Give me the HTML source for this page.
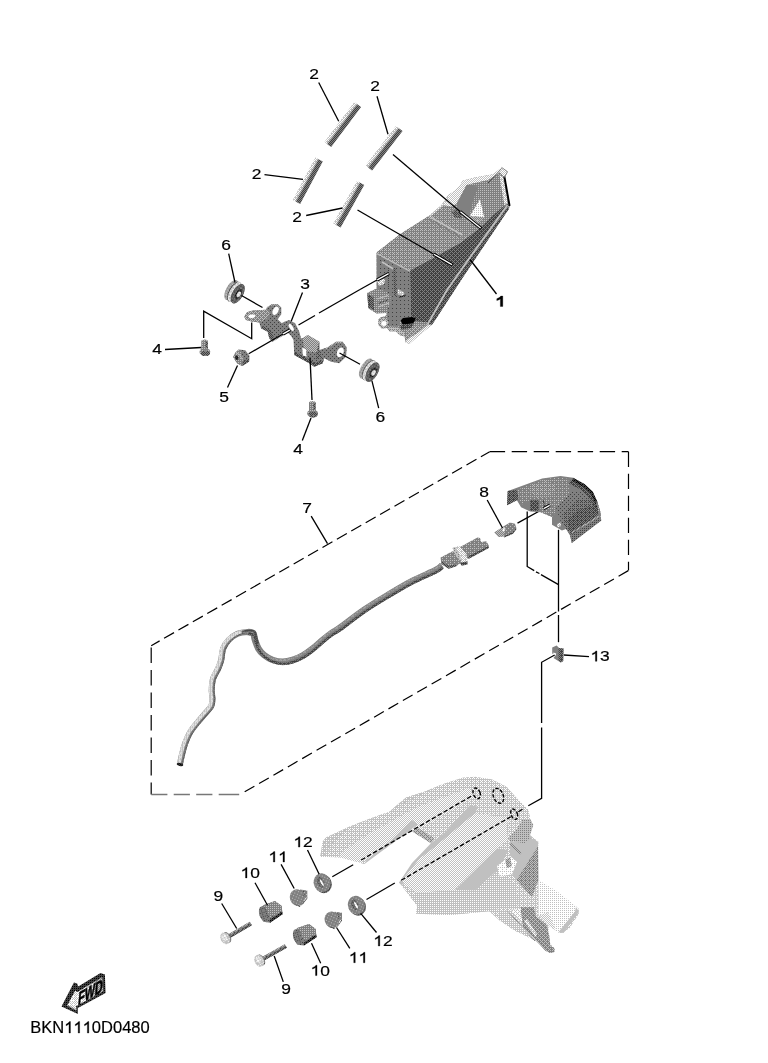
<!DOCTYPE html><html><head><meta charset="utf-8"><title>BKN1110D0480</title><style>html,body{margin:0;padding:0;background:#fff}body{width:768px;height:1063px;overflow:hidden;font-family:"Liberation Sans",sans-serif}svg{display:block;filter:grayscale(1)}</style></head><body><svg width="768" height="1063" viewBox="0 0 768 1063" font-family="'Liberation Sans', sans-serif" fill="#000"><defs><pattern id="ML5" width="4" height="4" patternUnits="userSpaceOnUse"><rect width="4" height="4" fill="#808080"/><g fill="#c0c0c0"><rect x="0" y="0" width="1" height="1"/><rect x="2" y="0" width="1" height="1"/><rect x="1" y="1" width="1" height="1"/><rect x="0" y="2" width="1" height="1"/><rect x="2" y="2" width="1" height="1"/></g></pattern><pattern id="ML2" width="4" height="4" patternUnits="userSpaceOnUse"><rect width="4" height="4" fill="#808080"/><g fill="#c0c0c0"><rect x="0" y="0" width="1" height="1"/><rect x="2" y="2" width="1" height="1"/></g></pattern><pattern id="DM6" width="4" height="4" patternUnits="userSpaceOnUse"><rect width="4" height="4" fill="#404040"/><g fill="#808080"><rect x="0" y="0" width="1" height="1"/><rect x="2" y="0" width="1" height="1"/><rect x="1" y="1" width="1" height="1"/><rect x="0" y="2" width="1" height="1"/><rect x="2" y="2" width="1" height="1"/><rect x="3" y="3" width="1" height="1"/></g></pattern><pattern id="LW6" width="4" height="4" patternUnits="userSpaceOnUse"><rect width="4" height="4" fill="#c0c0c0"/><g fill="#ffffff"><rect x="0" y="0" width="1" height="1"/><rect x="2" y="0" width="1" height="1"/><rect x="1" y="1" width="1" height="1"/><rect x="0" y="2" width="1" height="1"/><rect x="2" y="2" width="1" height="1"/><rect x="3" y="3" width="1" height="1"/></g></pattern><pattern id="LW10" width="4" height="4" patternUnits="userSpaceOnUse"><rect width="4" height="4" fill="#c0c0c0"/><g fill="#ffffff"><rect x="0" y="0" width="1" height="1"/><rect x="1" y="0" width="1" height="1"/><rect x="2" y="0" width="1" height="1"/><rect x="1" y="1" width="1" height="1"/><rect x="3" y="1" width="1" height="1"/><rect x="0" y="2" width="1" height="1"/><rect x="2" y="2" width="1" height="1"/><rect x="3" y="2" width="1" height="1"/><rect x="1" y="3" width="1" height="1"/><rect x="3" y="3" width="1" height="1"/></g></pattern><pattern id="LW8" width="4" height="4" patternUnits="userSpaceOnUse"><rect width="4" height="4" fill="#c0c0c0"/><g fill="#ffffff"><rect x="0" y="0" width="1" height="1"/><rect x="2" y="0" width="1" height="1"/><rect x="1" y="1" width="1" height="1"/><rect x="3" y="1" width="1" height="1"/><rect x="0" y="2" width="1" height="1"/><rect x="2" y="2" width="1" height="1"/><rect x="1" y="3" width="1" height="1"/><rect x="3" y="3" width="1" height="1"/></g></pattern><pattern id="LW4" width="4" height="4" patternUnits="userSpaceOnUse"><rect width="4" height="4" fill="#c0c0c0"/><g fill="#ffffff"><rect x="0" y="0" width="1" height="1"/><rect x="2" y="0" width="1" height="1"/><rect x="0" y="2" width="1" height="1"/><rect x="2" y="2" width="1" height="1"/></g></pattern><pattern id="ML10" width="4" height="4" patternUnits="userSpaceOnUse"><rect width="4" height="4" fill="#808080"/><g fill="#c0c0c0"><rect x="0" y="0" width="1" height="1"/><rect x="1" y="0" width="1" height="1"/><rect x="2" y="0" width="1" height="1"/><rect x="1" y="1" width="1" height="1"/><rect x="3" y="1" width="1" height="1"/><rect x="0" y="2" width="1" height="1"/><rect x="2" y="2" width="1" height="1"/><rect x="3" y="2" width="1" height="1"/><rect x="1" y="3" width="1" height="1"/><rect x="3" y="3" width="1" height="1"/></g></pattern><pattern id="MD6" width="4" height="4" patternUnits="userSpaceOnUse"><rect width="4" height="4" fill="#808080"/><g fill="#404040"><rect x="0" y="0" width="1" height="1"/><rect x="2" y="0" width="1" height="1"/><rect x="1" y="1" width="1" height="1"/><rect x="0" y="2" width="1" height="1"/><rect x="2" y="2" width="1" height="1"/><rect x="3" y="3" width="1" height="1"/></g></pattern><pattern id="MK8" width="4" height="4" patternUnits="userSpaceOnUse"><rect width="4" height="4" fill="#808080"/><g fill="#000000"><rect x="0" y="0" width="1" height="1"/><rect x="2" y="0" width="1" height="1"/><rect x="1" y="1" width="1" height="1"/><rect x="3" y="1" width="1" height="1"/><rect x="0" y="2" width="1" height="1"/><rect x="2" y="2" width="1" height="1"/><rect x="1" y="3" width="1" height="1"/><rect x="3" y="3" width="1" height="1"/></g></pattern><pattern id="ML8" width="4" height="4" patternUnits="userSpaceOnUse"><rect width="4" height="4" fill="#808080"/><g fill="#c0c0c0"><rect x="0" y="0" width="1" height="1"/><rect x="2" y="0" width="1" height="1"/><rect x="1" y="1" width="1" height="1"/><rect x="3" y="1" width="1" height="1"/><rect x="0" y="2" width="1" height="1"/><rect x="2" y="2" width="1" height="1"/><rect x="1" y="3" width="1" height="1"/><rect x="3" y="3" width="1" height="1"/></g></pattern><pattern id="DM8" width="4" height="4" patternUnits="userSpaceOnUse"><rect width="4" height="4" fill="#404040"/><g fill="#808080"><rect x="0" y="0" width="1" height="1"/><rect x="2" y="0" width="1" height="1"/><rect x="1" y="1" width="1" height="1"/><rect x="3" y="1" width="1" height="1"/><rect x="0" y="2" width="1" height="1"/><rect x="2" y="2" width="1" height="1"/><rect x="1" y="3" width="1" height="1"/><rect x="3" y="3" width="1" height="1"/></g></pattern><pattern id="ML4" width="4" height="4" patternUnits="userSpaceOnUse"><rect width="4" height="4" fill="#808080"/><g fill="#c0c0c0"><rect x="0" y="0" width="1" height="1"/><rect x="2" y="0" width="1" height="1"/><rect x="0" y="2" width="1" height="1"/><rect x="2" y="2" width="1" height="1"/></g></pattern><pattern id="WL4" width="4" height="4" patternUnits="userSpaceOnUse"><rect width="4" height="4" fill="#ffffff"/><g fill="#c0c0c0"><rect x="0" y="0" width="1" height="1"/><rect x="2" y="0" width="1" height="1"/><rect x="0" y="2" width="1" height="1"/><rect x="2" y="2" width="1" height="1"/></g></pattern><pattern id="ML9" width="4" height="4" patternUnits="userSpaceOnUse"><rect width="4" height="4" fill="#808080"/><g fill="#c0c0c0"><rect x="0" y="0" width="1" height="1"/><rect x="1" y="0" width="1" height="1"/><rect x="2" y="0" width="1" height="1"/><rect x="1" y="1" width="1" height="1"/><rect x="3" y="1" width="1" height="1"/><rect x="0" y="2" width="1" height="1"/><rect x="2" y="2" width="1" height="1"/><rect x="1" y="3" width="1" height="1"/><rect x="3" y="3" width="1" height="1"/></g></pattern><pattern id="MD7" width="4" height="4" patternUnits="userSpaceOnUse"><rect width="4" height="4" fill="#808080"/><g fill="#404040"><rect x="0" y="0" width="1" height="1"/><rect x="2" y="0" width="1" height="1"/><rect x="1" y="1" width="1" height="1"/><rect x="3" y="1" width="1" height="1"/><rect x="0" y="2" width="1" height="1"/><rect x="2" y="2" width="1" height="1"/><rect x="3" y="3" width="1" height="1"/></g></pattern><pattern id="ML6" width="4" height="4" patternUnits="userSpaceOnUse"><rect width="4" height="4" fill="#808080"/><g fill="#c0c0c0"><rect x="0" y="0" width="1" height="1"/><rect x="2" y="0" width="1" height="1"/><rect x="1" y="1" width="1" height="1"/><rect x="0" y="2" width="1" height="1"/><rect x="2" y="2" width="1" height="1"/><rect x="3" y="3" width="1" height="1"/></g></pattern><pattern id="MD1" width="4" height="4" patternUnits="userSpaceOnUse"><rect width="4" height="4" fill="#808080"/><g fill="#404040"><rect x="0" y="0" width="1" height="1"/></g></pattern><pattern id="MD9" width="4" height="4" patternUnits="userSpaceOnUse"><rect width="4" height="4" fill="#808080"/><g fill="#404040"><rect x="0" y="0" width="1" height="1"/><rect x="1" y="0" width="1" height="1"/><rect x="2" y="0" width="1" height="1"/><rect x="1" y="1" width="1" height="1"/><rect x="3" y="1" width="1" height="1"/><rect x="0" y="2" width="1" height="1"/><rect x="2" y="2" width="1" height="1"/><rect x="1" y="3" width="1" height="1"/><rect x="3" y="3" width="1" height="1"/></g></pattern><pattern id="LW3" width="4" height="4" patternUnits="userSpaceOnUse"><rect width="4" height="4" fill="#c0c0c0"/><g fill="#ffffff"><rect x="0" y="0" width="1" height="1"/><rect x="2" y="0" width="1" height="1"/><rect x="2" y="2" width="1" height="1"/></g></pattern><pattern id="DK6" width="4" height="4" patternUnits="userSpaceOnUse"><rect width="4" height="4" fill="#404040"/><g fill="#000000"><rect x="0" y="0" width="1" height="1"/><rect x="2" y="0" width="1" height="1"/><rect x="1" y="1" width="1" height="1"/><rect x="0" y="2" width="1" height="1"/><rect x="2" y="2" width="1" height="1"/><rect x="3" y="3" width="1" height="1"/></g></pattern><pattern id="MD8" width="4" height="4" patternUnits="userSpaceOnUse"><rect width="4" height="4" fill="#808080"/><g fill="#404040"><rect x="0" y="0" width="1" height="1"/><rect x="2" y="0" width="1" height="1"/><rect x="1" y="1" width="1" height="1"/><rect x="3" y="1" width="1" height="1"/><rect x="0" y="2" width="1" height="1"/><rect x="2" y="2" width="1" height="1"/><rect x="1" y="3" width="1" height="1"/><rect x="3" y="3" width="1" height="1"/></g></pattern><pattern id="ML11" width="4" height="4" patternUnits="userSpaceOnUse"><rect width="4" height="4" fill="#808080"/><g fill="#c0c0c0"><rect x="0" y="0" width="1" height="1"/><rect x="1" y="0" width="1" height="1"/><rect x="2" y="0" width="1" height="1"/><rect x="3" y="0" width="1" height="1"/><rect x="1" y="1" width="1" height="1"/><rect x="3" y="1" width="1" height="1"/><rect x="0" y="2" width="1" height="1"/><rect x="2" y="2" width="1" height="1"/><rect x="3" y="2" width="1" height="1"/><rect x="1" y="3" width="1" height="1"/><rect x="3" y="3" width="1" height="1"/></g></pattern><pattern id="DM5" width="4" height="4" patternUnits="userSpaceOnUse"><rect width="4" height="4" fill="#404040"/><g fill="#808080"><rect x="0" y="0" width="1" height="1"/><rect x="2" y="0" width="1" height="1"/><rect x="1" y="1" width="1" height="1"/><rect x="0" y="2" width="1" height="1"/><rect x="2" y="2" width="1" height="1"/></g></pattern><pattern id="ML3" width="4" height="4" patternUnits="userSpaceOnUse"><rect width="4" height="4" fill="#808080"/><g fill="#c0c0c0"><rect x="0" y="0" width="1" height="1"/><rect x="2" y="0" width="1" height="1"/><rect x="2" y="2" width="1" height="1"/></g></pattern><pattern id="DM4" width="4" height="4" patternUnits="userSpaceOnUse"><rect width="4" height="4" fill="#404040"/><g fill="#808080"><rect x="0" y="0" width="1" height="1"/><rect x="2" y="0" width="1" height="1"/><rect x="0" y="2" width="1" height="1"/><rect x="2" y="2" width="1" height="1"/></g></pattern><pattern id="DK4" width="4" height="4" patternUnits="userSpaceOnUse"><rect width="4" height="4" fill="#404040"/><g fill="#000000"><rect x="0" y="0" width="1" height="1"/><rect x="2" y="0" width="1" height="1"/><rect x="0" y="2" width="1" height="1"/><rect x="2" y="2" width="1" height="1"/></g></pattern><pattern id="MD2" width="4" height="4" patternUnits="userSpaceOnUse"><rect width="4" height="4" fill="#808080"/><g fill="#404040"><rect x="0" y="0" width="1" height="1"/><rect x="2" y="2" width="1" height="1"/></g></pattern><pattern id="ML7" width="4" height="4" patternUnits="userSpaceOnUse"><rect width="4" height="4" fill="#808080"/><g fill="#c0c0c0"><rect x="0" y="0" width="1" height="1"/><rect x="2" y="0" width="1" height="1"/><rect x="1" y="1" width="1" height="1"/><rect x="3" y="1" width="1" height="1"/><rect x="0" y="2" width="1" height="1"/><rect x="2" y="2" width="1" height="1"/><rect x="3" y="3" width="1" height="1"/></g></pattern><pattern id="DK8" width="4" height="4" patternUnits="userSpaceOnUse"><rect width="4" height="4" fill="#404040"/><g fill="#000000"><rect x="0" y="0" width="1" height="1"/><rect x="2" y="0" width="1" height="1"/><rect x="1" y="1" width="1" height="1"/><rect x="3" y="1" width="1" height="1"/><rect x="0" y="2" width="1" height="1"/><rect x="2" y="2" width="1" height="1"/><rect x="1" y="3" width="1" height="1"/><rect x="3" y="3" width="1" height="1"/></g></pattern><pattern id="LW5" width="4" height="4" patternUnits="userSpaceOnUse"><rect width="4" height="4" fill="#c0c0c0"/><g fill="#ffffff"><rect x="0" y="0" width="1" height="1"/><rect x="2" y="0" width="1" height="1"/><rect x="1" y="1" width="1" height="1"/><rect x="0" y="2" width="1" height="1"/><rect x="2" y="2" width="1" height="1"/></g></pattern><pattern id="LW7" width="4" height="4" patternUnits="userSpaceOnUse"><rect width="4" height="4" fill="#c0c0c0"/><g fill="#ffffff"><rect x="0" y="0" width="1" height="1"/><rect x="2" y="0" width="1" height="1"/><rect x="1" y="1" width="1" height="1"/><rect x="3" y="1" width="1" height="1"/><rect x="0" y="2" width="1" height="1"/><rect x="2" y="2" width="1" height="1"/><rect x="3" y="3" width="1" height="1"/></g></pattern><pattern id="LM3" width="4" height="4" patternUnits="userSpaceOnUse"><rect width="4" height="4" fill="#c0c0c0"/><g fill="#808080"><rect x="0" y="0" width="1" height="1"/><rect x="2" y="0" width="1" height="1"/><rect x="2" y="2" width="1" height="1"/></g></pattern><pattern id="DM7" width="4" height="4" patternUnits="userSpaceOnUse"><rect width="4" height="4" fill="#404040"/><g fill="#808080"><rect x="0" y="0" width="1" height="1"/><rect x="2" y="0" width="1" height="1"/><rect x="1" y="1" width="1" height="1"/><rect x="3" y="1" width="1" height="1"/><rect x="0" y="2" width="1" height="1"/><rect x="2" y="2" width="1" height="1"/><rect x="3" y="3" width="1" height="1"/></g></pattern><pattern id="MD5" width="4" height="4" patternUnits="userSpaceOnUse"><rect width="4" height="4" fill="#808080"/><g fill="#404040"><rect x="0" y="0" width="1" height="1"/><rect x="2" y="0" width="1" height="1"/><rect x="1" y="1" width="1" height="1"/><rect x="0" y="2" width="1" height="1"/><rect x="2" y="2" width="1" height="1"/></g></pattern><pattern id="MD10" width="4" height="4" patternUnits="userSpaceOnUse"><rect width="4" height="4" fill="#808080"/><g fill="#404040"><rect x="0" y="0" width="1" height="1"/><rect x="1" y="0" width="1" height="1"/><rect x="2" y="0" width="1" height="1"/><rect x="1" y="1" width="1" height="1"/><rect x="3" y="1" width="1" height="1"/><rect x="0" y="2" width="1" height="1"/><rect x="2" y="2" width="1" height="1"/><rect x="3" y="2" width="1" height="1"/><rect x="1" y="3" width="1" height="1"/><rect x="3" y="3" width="1" height="1"/></g></pattern><pattern id="MD4" width="4" height="4" patternUnits="userSpaceOnUse"><rect width="4" height="4" fill="#808080"/><g fill="#404040"><rect x="0" y="0" width="1" height="1"/><rect x="2" y="0" width="1" height="1"/><rect x="0" y="2" width="1" height="1"/><rect x="2" y="2" width="1" height="1"/></g></pattern><pattern id="LM6" width="4" height="4" patternUnits="userSpaceOnUse"><rect width="4" height="4" fill="#c0c0c0"/><g fill="#808080"><rect x="0" y="0" width="1" height="1"/><rect x="2" y="0" width="1" height="1"/><rect x="1" y="1" width="1" height="1"/><rect x="0" y="2" width="1" height="1"/><rect x="2" y="2" width="1" height="1"/><rect x="3" y="3" width="1" height="1"/></g></pattern><pattern id="LM4" width="4" height="4" patternUnits="userSpaceOnUse"><rect width="4" height="4" fill="#c0c0c0"/><g fill="#808080"><rect x="0" y="0" width="1" height="1"/><rect x="2" y="0" width="1" height="1"/><rect x="0" y="2" width="1" height="1"/><rect x="2" y="2" width="1" height="1"/></g></pattern><pattern id="LM9" width="4" height="4" patternUnits="userSpaceOnUse"><rect width="4" height="4" fill="#c0c0c0"/><g fill="#808080"><rect x="0" y="0" width="1" height="1"/><rect x="1" y="0" width="1" height="1"/><rect x="2" y="0" width="1" height="1"/><rect x="1" y="1" width="1" height="1"/><rect x="3" y="1" width="1" height="1"/><rect x="0" y="2" width="1" height="1"/><rect x="2" y="2" width="1" height="1"/><rect x="1" y="3" width="1" height="1"/><rect x="3" y="3" width="1" height="1"/></g></pattern><pattern id="LM8" width="4" height="4" patternUnits="userSpaceOnUse"><rect width="4" height="4" fill="#c0c0c0"/><g fill="#808080"><rect x="0" y="0" width="1" height="1"/><rect x="2" y="0" width="1" height="1"/><rect x="1" y="1" width="1" height="1"/><rect x="3" y="1" width="1" height="1"/><rect x="0" y="2" width="1" height="1"/><rect x="2" y="2" width="1" height="1"/><rect x="1" y="3" width="1" height="1"/><rect x="3" y="3" width="1" height="1"/></g></pattern><pattern id="LW13" width="4" height="4" patternUnits="userSpaceOnUse"><rect width="4" height="4" fill="#c0c0c0"/><g fill="#ffffff"><rect x="0" y="0" width="1" height="1"/><rect x="1" y="0" width="1" height="1"/><rect x="2" y="0" width="1" height="1"/><rect x="3" y="0" width="1" height="1"/><rect x="0" y="1" width="1" height="1"/><rect x="1" y="1" width="1" height="1"/><rect x="3" y="1" width="1" height="1"/><rect x="0" y="2" width="1" height="1"/><rect x="1" y="2" width="1" height="1"/><rect x="2" y="2" width="1" height="1"/><rect x="3" y="2" width="1" height="1"/><rect x="1" y="3" width="1" height="1"/><rect x="3" y="3" width="1" height="1"/></g></pattern><pattern id="WL6" width="4" height="4" patternUnits="userSpaceOnUse"><rect width="4" height="4" fill="#ffffff"/><g fill="#c0c0c0"><rect x="0" y="0" width="1" height="1"/><rect x="2" y="0" width="1" height="1"/><rect x="1" y="1" width="1" height="1"/><rect x="0" y="2" width="1" height="1"/><rect x="2" y="2" width="1" height="1"/><rect x="3" y="3" width="1" height="1"/></g></pattern><pattern id="WL3" width="4" height="4" patternUnits="userSpaceOnUse"><rect width="4" height="4" fill="#ffffff"/><g fill="#c0c0c0"><rect x="0" y="0" width="1" height="1"/><rect x="2" y="0" width="1" height="1"/><rect x="2" y="2" width="1" height="1"/></g></pattern><pattern id="DK5" width="4" height="4" patternUnits="userSpaceOnUse"><rect width="4" height="4" fill="#404040"/><g fill="#000000"><rect x="0" y="0" width="1" height="1"/><rect x="2" y="0" width="1" height="1"/><rect x="1" y="1" width="1" height="1"/><rect x="0" y="2" width="1" height="1"/><rect x="2" y="2" width="1" height="1"/></g></pattern><pattern id="MD3" width="4" height="4" patternUnits="userSpaceOnUse"><rect width="4" height="4" fill="#808080"/><g fill="#404040"><rect x="0" y="0" width="1" height="1"/><rect x="2" y="0" width="1" height="1"/><rect x="2" y="2" width="1" height="1"/></g></pattern><pattern id="LW9" width="4" height="4" patternUnits="userSpaceOnUse"><rect width="4" height="4" fill="#c0c0c0"/><g fill="#ffffff"><rect x="0" y="0" width="1" height="1"/><rect x="1" y="0" width="1" height="1"/><rect x="2" y="0" width="1" height="1"/><rect x="1" y="1" width="1" height="1"/><rect x="3" y="1" width="1" height="1"/><rect x="0" y="2" width="1" height="1"/><rect x="2" y="2" width="1" height="1"/><rect x="1" y="3" width="1" height="1"/><rect x="3" y="3" width="1" height="1"/></g></pattern><pattern id="LW11" width="4" height="4" patternUnits="userSpaceOnUse"><rect width="4" height="4" fill="#c0c0c0"/><g fill="#ffffff"><rect x="0" y="0" width="1" height="1"/><rect x="1" y="0" width="1" height="1"/><rect x="2" y="0" width="1" height="1"/><rect x="3" y="0" width="1" height="1"/><rect x="1" y="1" width="1" height="1"/><rect x="3" y="1" width="1" height="1"/><rect x="0" y="2" width="1" height="1"/><rect x="2" y="2" width="1" height="1"/><rect x="3" y="2" width="1" height="1"/><rect x="1" y="3" width="1" height="1"/><rect x="3" y="3" width="1" height="1"/></g></pattern><pattern id="LW2" width="4" height="4" patternUnits="userSpaceOnUse"><rect width="4" height="4" fill="#c0c0c0"/><g fill="#ffffff"><rect x="0" y="0" width="1" height="1"/><rect x="2" y="2" width="1" height="1"/></g></pattern></defs><rect width="768" height="1063" fill="#fff"/><polygon points="324.42,141.94 354.36,102.02 356.712,103.784 326.772,143.704" fill="url(#LW6)" />
<polygon points="326.604,143.578 356.544,103.658 357.317,104.238 327.377,144.158" fill="url(#ML8)" />
<polygon points="327.377,144.158 357.317,104.238 361.08,107.06 331.14,146.98" fill="url(#DM8)" />
<polygon points="365.443,165.38 395.912,125.981 398.237,127.78 367.769,167.178" fill="url(#LW6)" />
<polygon points="367.603,167.05 398.071,127.651 398.835,128.242 368.367,167.641" fill="url(#ML8)" />
<polygon points="368.367,167.641 398.835,128.242 402.557,131.12 372.088,170.519" fill="url(#DM8)" />
<polygon points="292.728,200.091 315.353,157.471 317.95,158.849 295.324,201.469" fill="url(#LW6)" />
<polygon points="295.139,201.371 317.764,158.751 318.618,159.204 295.992,201.824" fill="url(#ML8)" />
<polygon points="295.992,201.824 318.618,159.204 322.772,161.409 300.147,204.029" fill="url(#DM8)" />
<polygon points="333.246,223.509 356.911,180.911 359.481,182.339 335.816,224.937" fill="url(#LW6)" />
<polygon points="335.632,224.835 359.298,182.237 360.142,182.706 336.477,225.304" fill="url(#ML8)" />
<polygon points="336.477,225.304 360.142,182.706 364.254,184.991 340.589,227.589" fill="url(#DM8)" />
<polygon points="376.5,252.5 400,234.2 429.2,215.8 441.7,205 448.3,195 455,190.8 460,185.8 462.5,180.8 475,177.5 493.3,174.2 501.7,167.5 507.5,171.7 504.6,177.5 510,205 509,208.8 473.3,261.7 460,281.7 437,317.2 432,324.7 418.2,336 409.5,343.7 405.7,342.5 404.5,336.5 399.5,335 395.7,331.3 389.5,331.3 387,328 382,328.7 378.2,324.7 378.2,319.7 380.7,317.2 385.5,316 386.5,313 376.7,313.5 368.3,308.3 367.3,293 376.7,288.5" fill="url(#ML4)" />
<polygon points="441.7,205 448.3,195 455,190.8 460,185.8 462.5,180.8 475,177.5 493.3,174.2 501.7,167.5 507.5,171.7 504.6,177.5 500,172.5 488.3,180 466.7,185 457,203 452,206.5" fill="url(#LW8)" />
<polygon points="466.7,185 488.3,180 500,172.5 504,178 507.5,203.3 493.3,215 481.7,226.7 463.3,235 457.5,211 457,203" fill="url(#ML4)" />
<polygon points="466.7,185.3 478.3,186.5 473.3,200 469.2,215 458,214 457,203" fill="#808080" />
<polygon points="499.5,175 503.3,177.5 507.7,203.5 504.5,206 500.5,182" fill="url(#LW6)" />
<polygon points="480,199.2 484.2,217.5 470,215.8" fill="url(#WL4)" />
<polygon points="470,215.8 484.2,217.5 478,224 466,222" fill="url(#ML9)" />
<polygon points="376.7,252.5 400,234.2 429.2,215.8 441.7,205.8 455,210 463.3,235 481.7,226.7 460,243.3 410,270.8" fill="url(#ML5)" />
<polyline points="429.5,216.3 441.7,206 448,197.5" fill="none" stroke="url(#LW4)" stroke-width="1.6" />
<polyline points="430.8,217.5 462.5,235" fill="none" stroke="#c0c0c0" stroke-width="1.6" />
<polygon points="431.5,219 462.5,236.2 461,238.5 430,221" fill="url(#ML2)" />
<polygon points="451.5,211 458,209.5 463.5,214 461,218.5 454,217" fill="url(#MD7)" />
<polygon points="410,270.8 460,243.3 481.7,226.7 493.3,215 507.5,203.3 508,206.5 470,256.7 446.7,290 428.3,322.5 415.5,321 410.8,317.5" fill="url(#DM6)" />
<polygon points="509,208.8 473.3,261.7 460,281.7 437,317.2 432,324.7 427,326 446.7,292 470,259 508,207" fill="url(#DM6)" />
<polyline points="427.5,324.5 446.7,290.5 470,257.2 507.5,205" fill="none" stroke="#c0c0c0" stroke-width="1.7" />
<polygon points="405.7,342.5 409.5,343.7 418.2,336 432,324.7 428.5,324.5 416.5,333.5 407,339.5" fill="url(#LW8)" />
<polygon points="404.5,336.5 407,339.5 416.5,333.5 427,325.5 415,325.5 408,330" fill="url(#ML6)" />
<polygon points="376.7,253 410,270.8 410.8,318 400.7,320 398,327 388,326 387,312.2 386.5,292 376.7,288.5" fill="url(#MD1)" />
<polyline points="376.9,253.6 410,271.2" fill="none" stroke="#c0c0c0" stroke-width="1.3" />
<polyline points="382,262 393.5,269" fill="none" stroke="#c0c0c0" stroke-width="1.6" />
<polyline points="394.5,268 395,296" fill="none" stroke="url(#MD9)" stroke-width="1.8" />
<polyline points="388.5,270 388.5,290" fill="none" stroke="url(#MD7)" stroke-width="1.2" />
<polygon points="398,289 404.5,292.5 403.5,296.5 397.5,294" fill="url(#LW3)" />
<polyline points="399,297.5 406,295" fill="none" stroke="url(#DK6)" stroke-width="1.2" />
<polygon points="367.3,293 376.7,288.5 386.5,292 390.5,296 390,306 377,313.5 368.3,308.3" fill="url(#ML4)" />
<polygon points="367.5,294 373.5,297 374,310 368.3,307.5" fill="url(#MD9)" />
<polyline points="377,299 388,295.5" fill="none" stroke="#c0c0c0" stroke-width="1.3" />
<polyline points="378,303.5 389,299.5" fill="none" stroke="url(#MD8)" stroke-width="1.3" />
<polyline points="378,307 389,303" fill="none" stroke="#c0c0c0" stroke-width="1.3" />
<polygon points="377,281 382,278 385,280 384,284 379,286" fill="url(#LW6)" />
<ellipse cx="383.6" cy="322.8" rx="4.8" ry="5.2" fill="url(#ML10)" />
<ellipse cx="383.9" cy="323.5" rx="2.6" ry="2.4" fill="#fff" />
<polygon points="389.5,331.3 395.7,331.3 399.5,335 404.5,336.5 405,333 398,327.5 389,327" fill="url(#ML11)" />
<polygon points="400.7,320.5 403,318 412,317 415.7,318.5 414,322.5 408,324.7 402.5,324.5" fill="#000" />
<polygon points="400,325 414,323 411,328 401,329.5" fill="url(#DM5)" />
<polyline points="504.4,176.5 509.6,206" fill="none" stroke="#000" stroke-width="1.9" />
<polyline points="501.5,168.5 488,183" fill="none" stroke="url(#MD8)" stroke-width="1.0" />
<polyline points="501.7,167.5 507.5,171.7 504.5,177.5" fill="none" stroke="#808080" stroke-width="0.9" />
<line x1="393" y1="154.5" x2="460" y2="211.5" stroke="#000" stroke-width="1.3" />
<line x1="357.5" y1="210" x2="433.5" y2="254" stroke="#000" stroke-width="1.3" />
<line x1="460" y1="211.5" x2="481.3" y2="228.5" stroke="#000" stroke-width="3.2" stroke-linecap="butt"/>
<line x1="460.426" y1="211.84" x2="480.661" y2="227.99" stroke="#fff" stroke-width="1.3" />
<line x1="433.5" y1="254" x2="452.5" y2="265" stroke="#000" stroke-width="3.2" stroke-linecap="butt"/>
<line x1="433.88" y1="254.22" x2="451.93" y2="264.67" stroke="#fff" stroke-width="1.3" />
<line x1="470" y1="259.5" x2="496.5" y2="294" stroke="#000" stroke-width="1.3" />
<path transform="translate(495.311 306.491) scale(17.4 14.5)" d="M.43,0H.29V-.52Q.2,-.45 .085,-.41V-.535Q.25,-.6 .32,-.716H.43Z" stroke="#000" stroke-width="0.02"/>
<line x1="318.7" y1="82.5" x2="338.7" y2="121.2" stroke="#000" stroke-width="1.3" />
<text transform="translate(309.371 78.991) scale(1.2 1)" font-size="14.5" font-weight="normal" text-anchor="start" stroke="#000" stroke-width="0.18">2</text>
<line x1="377" y1="96.2" x2="388" y2="134.2" stroke="#000" stroke-width="1.3" />
<text transform="translate(370.171 90.991) scale(1.2 1)" font-size="14.5" font-weight="normal" text-anchor="start" stroke="#000" stroke-width="0.18">2</text>
<line x1="264.5" y1="174.6" x2="303" y2="179.4" stroke="#000" stroke-width="1.3" />
<text transform="translate(251.672 178.791) scale(1.2 1)" font-size="14.5" font-weight="normal" text-anchor="start" stroke="#000" stroke-width="0.18">2</text>
<line x1="306.2" y1="215.5" x2="342.5" y2="208" stroke="#000" stroke-width="1.3" />
<text transform="translate(292.171 221.791) scale(1.2 1)" font-size="14.5" font-weight="normal" text-anchor="start" stroke="#000" stroke-width="0.18">2</text>
<ellipse cx="231.323" cy="290.05" rx="5.2" ry="11.2" fill="url(#ML9)" transform="rotate(30 231.323 290.05)" />
<ellipse cx="234.18" cy="291.7" rx="5.2" ry="11.2" fill="url(#DM4)" transform="rotate(30 234.18 291.7)" />
<ellipse cx="234.96" cy="292.15" rx="5.2" ry="11.2" fill="url(#LW6)" transform="rotate(30 234.96 292.15)" />
<ellipse cx="237.644" cy="293.7" rx="5.2" ry="10.864" fill="url(#DM5)" transform="rotate(30 237.644 293.7)" />
<ellipse cx="238.077" cy="293.95" rx="4.94" ry="10.416" fill="url(#MD7)" transform="rotate(30 238.077 293.95)" />
<ellipse cx="238.424" cy="294.15" rx="2.86" ry="5.6" fill="url(#DK4)" transform="rotate(30 238.424 294.15)" />
<ellipse cx="238.857" cy="294.4" rx="1.9" ry="3" fill="url(#LW8)" transform="rotate(30 238.857 294.4)" />
<ellipse cx="366.023" cy="368.45" rx="5.2" ry="11.2" fill="url(#ML9)" transform="rotate(30 366.023 368.45)" />
<ellipse cx="368.88" cy="370.1" rx="5.2" ry="11.2" fill="url(#DM4)" transform="rotate(30 368.88 370.1)" />
<ellipse cx="369.66" cy="370.55" rx="5.2" ry="11.2" fill="url(#LW6)" transform="rotate(30 369.66 370.55)" />
<ellipse cx="372.344" cy="372.1" rx="5.2" ry="10.864" fill="url(#DM5)" transform="rotate(30 372.344 372.1)" />
<ellipse cx="372.777" cy="372.35" rx="4.94" ry="10.416" fill="url(#MD7)" transform="rotate(30 372.777 372.35)" />
<ellipse cx="373.124" cy="372.55" rx="2.86" ry="5.6" fill="url(#DK4)" transform="rotate(30 373.124 372.55)" />
<ellipse cx="373.557" cy="372.8" rx="1.9" ry="3" fill="url(#LW8)" transform="rotate(30 373.557 372.8)" />
<polygon points="244.3,316.7 247,312.3 252.7,310.6 266,309.7 266.8,307.5 271.8,304.2 277.7,304.2 281.3,307.5 281.3,314.2 277.7,319.2 281.8,323.3 284.3,321.7 289.3,320 295.2,323.3 299.3,331.7 301,338.3 302.7,338.3 307.7,335 319.3,341.7 319.3,350 329.3,346.7 336,341.7 342.7,341.7 346.8,347.5 346,356.7 339.3,363.3 331,361.7 324.3,358.3 322.7,363.3 314.3,366.7 309.3,363.3 294.3,355 293.5,340 291,335.8 286,331 279,336 272,341 269.3,338.3 267.7,331.7 261,328.3 259.3,322.5 252.7,321.7 246,320" fill="url(#MD2)" />
<polygon points="244.3,316.7 247,312.3 252.7,310.6 266,309.7 270,312 268,318 259.3,322.5 252.7,321.7 246,320" fill="url(#ML6)" />
<polyline points="267.5,307.5 272,304.8 277.5,304.8 280.7,308" fill="none" stroke="url(#ML8)" stroke-width="1.2" />
<polyline points="326,349 331,345.5 336.5,342.3 342.5,342.3" fill="none" stroke="url(#ML8)" stroke-width="1.2" />
<polygon points="294.3,355 309.3,363.3 314.3,366.7 322.7,363.3 323.5,360 314.5,363 309.8,359.8 294.5,351.5" fill="url(#DM6)" />
<polygon points="261,328.3 267.7,331.7 269.3,338.3 272,341 274,337.5 270.5,330.5 263,326" fill="url(#DM8)" />
<ellipse cx="251.8" cy="316.3" rx="3.5" ry="1.7" fill="#fff" transform="rotate(-5 251.8 316.3)" />
<ellipse cx="275.6" cy="310.8" rx="2.7" ry="4.4" fill="#fff" transform="rotate(28 275.6 310.8)" />
<ellipse cx="291.2" cy="327.3" rx="1.7" ry="4" fill="#fff" transform="rotate(-32 291.2 327.3)" />
<ellipse cx="340.3" cy="352.3" rx="3.2" ry="5" fill="#fff" transform="rotate(22 340.3 352.3)" />
<polygon points="302.7,338.3 307.7,335 319.3,341.7 316.5,352.5 304.5,351" fill="url(#ML8)" />
<polygon points="316.5,352.5 319.3,341.7 319.3,350 322,358 316,360" fill="url(#MD6)" />
<polygon points="302.2,347.5 306,349.5 306.6,356.5 302.8,355.5" fill="#fff" />
<polyline points="272,341.3 285,333.5" fill="none" stroke="url(#ML8)" stroke-width="1.6" />
<ellipse cx="204.6" cy="341.4" rx="3.3" ry="1.8" fill="url(#ML7)" />
<polygon points="201.3,341.3 207.9,341.3 207.9,350.3 201.3,350.3" fill="url(#ML4)" />
<polygon points="205.4,341.3 207.9,341.3 207.9,350.3 205.4,350.3" fill="url(#MD6)" />
<ellipse cx="204.9" cy="352" rx="5.4" ry="4" fill="url(#ML4)" />
<ellipse cx="205.4" cy="353.2" rx="4.6" ry="2.8" fill="url(#MD7)" />
<ellipse cx="312.3" cy="402.8" rx="3.3" ry="1.8" fill="url(#ML7)" />
<polygon points="309,402.7 315.6,402.7 315.6,411.7 309,411.7" fill="url(#ML4)" />
<polygon points="313.1,402.7 315.6,402.7 315.6,411.7 313.1,411.7" fill="url(#MD6)" />
<ellipse cx="312.6" cy="413.4" rx="5.4" ry="4" fill="url(#ML4)" />
<ellipse cx="313.1" cy="414.6" rx="4.6" ry="2.8" fill="url(#MD7)" />
<polygon points="238.7,349.4 245.3,350.2 249.5,355.7 249.1,361.5 242,366.1 237,363.2 233.2,356.9 235.3,352.7" fill="url(#MD2)" />
<polygon points="235.3,352.7 238.7,349.4 241,352 243,358 242,366.1 237,363.2 233.2,356.9" fill="url(#ML4)" />
<polyline points="235.8,352.8 239.5,354.5 242.3,359.5" fill="none" stroke="#c0c0c0" stroke-width="1.0" />
<polygon points="243,362 249.1,358 249.1,361.5 242.5,366" fill="url(#DM6)" />
<ellipse cx="236.8" cy="357.8" rx="1.6" ry="2.2" fill="url(#DK8)" transform="rotate(-20 236.8 357.8)" />
<line x1="228.7" y1="253.7" x2="235" y2="282.5" stroke="#000" stroke-width="1.3" />
<text transform="translate(221.371 250.291) scale(1.2 1)" font-size="14.5" font-weight="normal" text-anchor="start" stroke="#000" stroke-width="0.18">6</text>
<line x1="241.5" y1="295.5" x2="262.5" y2="307.5" stroke="#000" stroke-width="1.3" />
<polyline points="203.7,338 203.7,311.2 251.7,338.7 251.7,322.5" fill="none" stroke="#000" stroke-width="1.3" />
<line x1="165" y1="349.5" x2="201.2" y2="347.5" stroke="#000" stroke-width="1.3" />
<text transform="translate(152.172 354.291) scale(1.2 1)" font-size="14.5" font-weight="normal" text-anchor="start" stroke="#000" stroke-width="0.18">4</text>
<line x1="227.5" y1="387.5" x2="237.5" y2="365.5" stroke="#000" stroke-width="1.3" />
<text transform="translate(219.371 401.791) scale(1.2 1)" font-size="14.5" font-weight="normal" text-anchor="start" stroke="#000" stroke-width="0.18">5</text>
<line x1="302.5" y1="292.5" x2="291.2" y2="321.2" stroke="#000" stroke-width="1.3" />
<text transform="translate(300.171 289.291) scale(1.2 1)" font-size="14.5" font-weight="normal" text-anchor="start" stroke="#000" stroke-width="0.18">3</text>
<line x1="248.7" y1="353.7" x2="283" y2="334" stroke="#000" stroke-width="1.3" />
<line x1="283" y1="334" x2="290" y2="330" stroke="#000" stroke-width="3.2" stroke-linecap="butt"/>
<line x1="283.14" y1="333.92" x2="289.79" y2="330.12" stroke="#fff" stroke-width="1.3" />
<line x1="298.5" y1="325" x2="315" y2="315.5" stroke="#000" stroke-width="1.3" />
<line x1="319" y1="313" x2="360" y2="289.5" stroke="#000" stroke-width="1.3" />
<line x1="377" y1="280" x2="389" y2="273.5" stroke="#000" stroke-width="3.2" stroke-linecap="butt"/>
<line x1="377.24" y1="279.87" x2="388.64" y2="273.695" stroke="#fff" stroke-width="1.3" />
<line x1="360" y1="289.5" x2="377" y2="280" stroke="#000" stroke-width="1.3" />
<line x1="310" y1="357.5" x2="312" y2="400" stroke="#000" stroke-width="1.3" />
<line x1="339.5" y1="353" x2="360" y2="364.2" stroke="#000" stroke-width="1.3" />
<line x1="371.9" y1="380.6" x2="378.7" y2="408.2" stroke="#000" stroke-width="1.3" />
<text transform="translate(375.571 421.991) scale(1.2 1)" font-size="14.5" font-weight="normal" text-anchor="start" stroke="#000" stroke-width="0.18">6</text>
<line x1="302.3" y1="440.6" x2="311" y2="418" stroke="#000" stroke-width="1.3" />
<text transform="translate(293.272 454.391) scale(1.2 1)" font-size="14.5" font-weight="normal" text-anchor="start" stroke="#000" stroke-width="0.18">4</text>
<polyline points="489.7,451.7 628.5,451.7" fill="none" stroke="#000" stroke-width="1.2" stroke-dasharray="15.4 6.6" stroke-dashoffset="0"/>
<polyline points="628.5,451.7 628.5,570.5" fill="none" stroke="#000" stroke-width="1.2" stroke-dasharray="15.4 6.6" stroke-dashoffset="0"/>
<polyline points="240,794.5 628.5,570.5" fill="none" stroke="#000" stroke-width="1.2" stroke-dasharray="11.2 5.4" stroke-dashoffset="11.2"/>
<polyline points="151.2,645.7 489.7,451.7" fill="none" stroke="#000" stroke-width="1.2" stroke-dasharray="11.5 5.1" stroke-dashoffset="1.8"/>
<polyline points="151.2,645.7 151.2,794.5" fill="none" stroke="#000" stroke-width="1.2" stroke-dasharray="15.6 6.9" stroke-dashoffset="20.7"/>
<polyline points="151.2,794.5 240,794.5" fill="none" stroke="#777" stroke-width="1.6" stroke-dasharray="16.2 6.3 16.2 6.3 16.2 6.3 20.5 50" stroke-dashoffset="0"/>
<line x1="311.2" y1="516.2" x2="327.5" y2="543.7" stroke="#000" stroke-width="1.3" />
<text transform="translate(302.171 513.491) scale(1.2 1)" font-size="14.5" font-weight="normal" text-anchor="start" stroke="#000" stroke-width="0.18">7</text>
<path d="M180,763.7 C180.32,762.25 181.07,758.33 181.9,755 C182.73,751.67 183.65,747.45 185,743.7 C186.35,739.95 187.92,736.03 190,732.5 C192.08,728.97 195.00,725.63 197.5,722.5 C200.00,719.37 202.72,716.42 205,713.7 C207.28,710.98 209.95,708.70 211.2,706.2 C212.45,703.70 212.42,701.40 212.5,698.7 C212.58,696.00 211.60,693.33 211.7,690 C211.80,686.67 212.03,682.25 213.1,678.7 C214.17,675.15 216.75,671.82 218.1,668.7 C219.45,665.58 220.37,663.33 221.2,660 C222.03,656.67 221.85,652.03 223.1,648.7 C224.35,645.37 226.30,642.50 228.7,640 C231.10,637.50 234.37,635.05 237.5,633.7 C240.63,632.35 244.90,632.00 247.5,631.9 C250.10,631.80 252.17,632.90 253.1,633.1" fill="none" stroke="#808080" stroke-width="6.0" stroke-linecap="butt" stroke-linejoin="round"/>
<path d="M247.5,631.9 C248.43,632.10 251.85,631.75 253.1,633.1 C254.35,634.45 254.10,637.40 255,640 C255.90,642.60 257.00,646.20 258.5,648.7 C260.00,651.20 261.63,653.12 264,655 C266.37,656.88 269.58,658.85 272.7,660 C275.82,661.15 279.37,661.90 282.7,661.9 C286.03,661.90 289.37,661.05 292.7,660 C296.03,658.95 299.37,657.48 302.7,655.6 C306.03,653.72 309.37,651.30 312.7,648.7 C316.03,646.10 319.57,642.60 322.7,640 C325.83,637.40 328.62,635.13 331.5,633.1 C334.38,631.07 334.58,631.65 340,627.8 C345.42,623.95 356.00,615.47 364,610 C372.00,604.53 380.00,599.80 388,595 C396.00,590.20 404.00,585.37 412,581.2 C420.00,577.03 431.00,572.62 436,570 C441.00,567.38 441.00,566.25 442,565.5" fill="none" stroke="#808080" stroke-width="6.6" stroke-linecap="butt" stroke-linejoin="round"/>
<path d="M180,763.7 C180.32,762.25 181.07,758.33 181.9,755 C182.73,751.67 183.65,747.45 185,743.7 C186.35,739.95 187.92,736.03 190,732.5 C192.08,728.97 195.00,725.63 197.5,722.5 C200.00,719.37 202.72,716.42 205,713.7 C207.28,710.98 209.95,708.70 211.2,706.2 C212.45,703.70 212.42,701.40 212.5,698.7 C212.58,696.00 211.60,693.33 211.7,690 C211.80,686.67 212.03,682.25 213.1,678.7 C214.17,675.15 216.75,671.82 218.1,668.7 C219.45,665.58 220.37,663.33 221.2,660 C222.03,656.67 221.85,652.03 223.1,648.7 C224.35,645.37 226.30,642.50 228.7,640 C231.10,637.50 234.37,635.05 237.5,633.7 C240.63,632.35 244.90,632.00 247.5,631.9 C250.10,631.80 252.17,632.90 253.1,633.1" fill="none" stroke="url(#LW5)" stroke-width="3.6" stroke-linecap="butt" transform="translate(-1.1 -0.4)"/>
<path d="M180,763.7 C180.32,762.25 181.07,758.33 181.9,755 C182.73,751.67 183.65,747.45 185,743.7 C186.35,739.95 187.92,736.03 190,732.5 C192.08,728.97 195.00,725.63 197.5,722.5 C200.00,719.37 202.72,716.42 205,713.7 C207.28,710.98 209.95,708.70 211.2,706.2 C212.45,703.70 212.42,701.40 212.5,698.7 C212.58,696.00 211.60,693.33 211.7,690 C211.80,686.67 212.03,682.25 213.1,678.7 C214.17,675.15 216.75,671.82 218.1,668.7 C219.45,665.58 220.37,663.33 221.2,660 C222.03,656.67 221.85,652.03 223.1,648.7 C224.35,645.37 226.30,642.50 228.7,640 C231.10,637.50 234.37,635.05 237.5,633.7 C240.63,632.35 244.90,632.00 247.5,631.9 C250.10,631.80 252.17,632.90 253.1,633.1" fill="none" stroke="url(#MD6)" stroke-width="1.2" stroke-linecap="butt" transform="translate(2.3 0.8)"/>
<path d="M247.5,631.9 C248.43,632.10 251.85,631.75 253.1,633.1 C254.35,634.45 254.10,637.40 255,640 C255.90,642.60 257.00,646.20 258.5,648.7 C260.00,651.20 261.63,653.12 264,655 C266.37,656.88 269.58,658.85 272.7,660 C275.82,661.15 279.37,661.90 282.7,661.9 C286.03,661.90 289.37,661.05 292.7,660 C296.03,658.95 299.37,657.48 302.7,655.6 C306.03,653.72 309.37,651.30 312.7,648.7 C316.03,646.10 319.57,642.60 322.7,640 C325.83,637.40 328.62,635.13 331.5,633.1 C334.38,631.07 334.58,631.65 340,627.8 C345.42,623.95 356.00,615.47 364,610 C372.00,604.53 380.00,599.80 388,595 C396.00,590.20 404.00,585.37 412,581.2 C420.00,577.03 431.00,572.62 436,570 C441.00,567.38 441.00,566.25 442,565.5" fill="none" stroke="url(#ML5)" stroke-width="2.0" stroke-linecap="butt" transform="translate(-0.7 -1.7)"/>
<path d="M247.5,631.9 C248.43,632.10 251.85,631.75 253.1,633.1 C254.35,634.45 254.10,637.40 255,640 C255.90,642.60 257.00,646.20 258.5,648.7 C260.00,651.20 261.63,653.12 264,655 C266.37,656.88 269.58,658.85 272.7,660 C275.82,661.15 279.37,661.90 282.7,661.9 C286.03,661.90 289.37,661.05 292.7,660 C296.03,658.95 299.37,657.48 302.7,655.6 C306.03,653.72 309.37,651.30 312.7,648.7 C316.03,646.10 319.57,642.60 322.7,640 C325.83,637.40 328.62,635.13 331.5,633.1 C334.38,631.07 334.58,631.65 340,627.8 C345.42,623.95 356.00,615.47 364,610 C372.00,604.53 380.00,599.80 388,595 C396.00,590.20 404.00,585.37 412,581.2 C420.00,577.03 431.00,572.62 436,570 C441.00,567.38 441.00,566.25 442,565.5" fill="none" stroke="url(#DM5)" stroke-width="2.4" stroke-linecap="butt" transform="translate(0.8 2.0)"/>
<path d="M240,633 C241.25,632.82 245.32,631.88 247.5,631.9 C249.68,631.92 251.85,631.75 253.1,633.1 C254.35,634.45 254.43,638.02 255,640 C255.57,641.98 256.25,644.17 256.5,645" fill="none" stroke="url(#DM4)" stroke-width="2.2" transform="translate(1.6 -1.2)"/>
<ellipse cx="180" cy="764.5" rx="3.3" ry="1.6" fill="url(#DK8)" transform="rotate(12 180 764.5)" />
<polygon points="440.6,557.5 452.5,551.2 460,553 462,562 456.2,566.2 448.7,568.7 441.2,563.7" fill="url(#ML3)" />
<polygon points="441.2,563.7 448.7,568.7 456.2,566.2 456.4,564 449,565.8 442,561.5" fill="url(#MD7)" />
<polygon points="460,547 477.5,537.5 480,538.1 481.2,541.9 486.2,541.2 488.7,545 488.7,548.1 468.7,558.7 462,557" fill="url(#ML3)" />
<polygon points="468.7,558.7 488.7,548.1 488.5,546 468,556.6" fill="url(#DM5)" />
<polygon points="452.5,548.1 459,545.8 466.2,553.7 467.5,561.2 461.5,562.5 456.5,556.2" fill="url(#LW7)" />
<polygon points="452.5,548.1 455.5,547 460,555.5 461.5,562.5 456.5,556.2" fill="url(#LM3)" />
<polygon points="460,562.8 467.5,561.2 467.5,564.5 461.5,565.8" fill="url(#DM5)" />
<polygon points="494.4,532.5 505,525.6 510,522.5 515,523.7 516.2,527.5 512.5,531.9 503.7,536.2 498.7,536.9" fill="url(#ML2)" />
<polygon points="494.4,532.5 503.5,526.5 505,532 503.7,536.2 498.7,536.9" fill="url(#ML8)" />
<ellipse cx="503.9" cy="529.6" rx="1.3" ry="2.3" fill="url(#LW10)" transform="rotate(20 503.9 529.6)" />
<polygon points="503.7,536.2 512.5,531.9 516.2,527.5 516.4,529.3 513,533.8 504.3,537.6" fill="url(#DM4)" />
<line x1="487.2" y1="500" x2="502.5" y2="528" stroke="#000" stroke-width="1.3" />
<text transform="translate(479.171 496.791) scale(1.2 1)" font-size="14.5" font-weight="normal" text-anchor="start" stroke="#000" stroke-width="0.18">8</text>
<line x1="517.5" y1="523.1" x2="543.5" y2="508.7" stroke="#000" stroke-width="1.3" />
<polygon points="507.7,491.1 542.2,478.4 560.5,475.9 573.1,477.7 584.4,484.1 592.8,491.8 597,500.9 600.5,512.2 601.2,520.6 571.7,543.1 570.3,536.1 566.1,529.1 561.9,530.5 552,524.8 552,517.1 540.8,512.2 530.2,511.5 521.1,507.3 516.9,500.2 507,505.2" fill="#808080" />
<polygon points="518,489.5 542.2,479.5 560.5,477 568,479 570,492 562,505 552,517.1 540.8,512.2 538.7,500 530,500 521.1,505 518.3,498.1" fill="url(#ML3)" />
<polygon points="528,487 545,481 556,484 552,497 536,498" fill="url(#ML5)" />
<polygon points="507.7,491.1 516.9,489.7 518.3,498.1 516.9,500.2 507,505.2" fill="url(#DM7)" />
<polygon points="530.2,500.2 538.7,500.2 538.7,510.8 530.2,510.8" fill="url(#DM6)" />
<polyline points="543,500 544.5,506" fill="none" stroke="url(#DM6)" stroke-width="1.2" />
<polygon points="556,508 572,492 588,492 597,503 599.5,514 571,535 566.1,529.1 560,520" fill="url(#MD2)" />
<polygon points="562,514 576,500 590,498 598,506 599.5,514 571,535 566.1,529.1" fill="url(#MD5)" />
<polygon points="567,521 580,509 593,506 599.5,514 571.7,535" fill="url(#MD9)" />
<polygon points="573.1,477.7 584.4,484.1 592.8,491.8 597,500.9 599.8,511 598,512 594.5,502 590.5,494 582.5,486.8 572,481" fill="url(#DK6)" />
<polygon points="570.5,480.5 582.5,486.8 590.5,494 594.5,502 598,512 596,513 592,503 588,496 580.5,489.5 569,483.5" fill="url(#MD10)" />
<polygon points="597,500.9 600.5,512.2 601.2,520.6 598.8,522.3 598.6,513 596,503" fill="url(#ML3)" />
<polygon points="571.7,535 598.4,517.8 601.2,520.6 571.7,543.1 570.3,536.1" fill="url(#MD4)" />
<polyline points="571.7,532.8 598.4,516.6" fill="none" stroke="url(#ML9)" stroke-width="1.2" />
<polygon points="557,524 560.5,522.5 561,526 557.5,527.5" fill="url(#LW6)" />
<line x1="543.5" y1="508.7" x2="549.9" y2="505.2" stroke="#000" stroke-width="3.2" stroke-linecap="butt"/>
<line x1="543.628" y1="508.63" x2="549.708" y2="505.305" stroke="#fff" stroke-width="1.3" />
<polyline points="527.2,511.5 527.2,566.5 534.2,570.6" fill="none" stroke="#000" stroke-width="1.3" />
<line x1="536" y1="571.8" x2="539.4" y2="573.5" stroke="#000" stroke-width="1.3" />
<line x1="541" y1="574.6" x2="558.5" y2="584.6" stroke="#000" stroke-width="1.3" />
<line x1="558.5" y1="529.8" x2="558.5" y2="611.5" stroke="#000" stroke-width="1.3" />
<line x1="558.5" y1="615" x2="558.5" y2="642.2" stroke="#000" stroke-width="1.3" />
<polygon points="552.2,647.6 556.6,645.4 559.7,648.5 563.5,648.5 563.2,661 560.7,662.6 553.5,657.9 555.4,655.4 552.2,653.5" fill="#808080" />
<polygon points="558.5,648 563.5,648.5 563.2,661 560.7,662.6 558.5,660.5" fill="url(#DM7)" />
<polygon points="553.5,652.5 556.2,653.5 555.6,655.6 553,655" fill="#fff" />
<line x1="563.8" y1="655" x2="589" y2="656.7" stroke="#000" stroke-width="1.3" />
<path transform="translate(590.434 661.291) scale(17.4 14.5)" d="M.372,0H.285V-.56Q.2,-.49 .109,-.452V-.54Q.25,-.61 .316,-.716H.372Z" stroke="#000" stroke-width="0.02"/>
<text transform="translate(600.108 661.291) scale(1.2 1)" font-size="14.5" font-weight="normal" text-anchor="start" stroke="#000" stroke-width="0.18">3</text>
<polyline points="554.7,655 541.6,662.3 541.6,723" fill="none" stroke="#000" stroke-width="1.3" />
<polyline points="541.6,727.5 541.6,798.3 528.3,805.8" fill="none" stroke="#000" stroke-width="1.3" />
<polygon points="322.7,841.7 326,837.5 349.3,826.7 371,818.3 389.3,811.7 406,797.5 424.3,791.7 445,783.3 463.3,777.5 475,776.7 491.7,779.2 506.7,786.7 520,801.7 528.3,810 530,818.3 533.3,825 530,835 538.3,841.7 538.4,880 578.8,908.6 578.8,913.8 569.7,928.1 561.9,933.3 548.9,925.5 547.6,941.1 554,947.7 552.8,951.6 546.2,950.3 535.8,941.1 515,930.7 499.4,920.3 489,911.2 449.9,915.1 416,913.8 417.3,906 399.1,882.6 431,843.3 412.7,831.7 416,826.7 366,861.7 364.3,864.2 359.3,862.5 341,857.5 320.2,856.7" fill="url(#LW5)" />
<clipPath id="cfs"><polygon points="322.7,841.7 326,837.5 349.3,826.7 371,818.3 389.3,811.7 406,797.5 424.3,791.7 445,783.3 463.3,777.5 475,776.7 491.7,779.2 506.7,786.7 520,801.7 528.3,810 530,818.3 533.3,825 530,835 538.3,841.7 538.4,880 578.8,908.6 578.8,913.8 569.7,928.1 561.9,933.3 548.9,925.5 547.6,941.1 554,947.7 552.8,951.6 546.2,950.3 535.8,941.1 515,930.7 499.4,920.3 489,911.2 449.9,915.1 416,913.8 417.3,906 399.1,882.6 431,843.3 412.7,831.7 416,826.7 366,861.7 364.3,864.2 359.3,862.5 341,857.5 320.2,856.7"/></clipPath>
<polygon points="300,830 440,770 440,786 389,812 349,828 320,860 300,870" fill="url(#LW3)" clip-path="url(#cfs)"/>
<polygon points="330,866 366,860.5 474,797 470,788 420,806 372,832 345,850" fill="url(#LW8)" clip-path="url(#cfs)"/>
<polygon points="364.5,864 366,860.5 389.3,842 412,820 417.7,824.5" fill="#c0c0c0" />
<polygon points="412.7,831.7 416,826.7 434,838 431,843.3" fill="url(#ML10)" />
<polygon points="399.1,882.6 412,863 431,843.3 444,833.3 470,805 478.3,806.7 475,813.3 433.3,848.3 420,858.3 404,880 402,886" fill="#c0c0c0" />
<polygon points="455,890 488,856 497,848.5 508,850 500,868 475,890.5" fill="#c0c0c0" />
<polyline points="455,890 497,848.5" fill="none" stroke="url(#LM6)" stroke-width="1.0" />
<polygon points="420,858.3 433.3,848.3 475,813.3 508,818 401.5,880.5" fill="url(#LW8)" />
<polygon points="401.5,880.5 508,818.5 512,836 497,848.5 455,890 417,893 404,884" fill="url(#LW8)" />
<polygon points="417.3,906 410,896 417,893 455,890 475,890.5 500,868 515,885 520,905 489,911.2 449.9,915.1 416,913.8" fill="url(#LW4)" />
<polygon points="510,841 525,843.5 531,838 538.3,841.7 538,846 516.5,880 512,874 517,862 510,856" fill="#c0c0c0" />
<polygon points="522,820 530.5,820 533.3,825 530,835 531,838 525,843.5 510,841 508,838.5 516.5,829" fill="url(#LM4)" />
<polygon points="538,846 538.4,880 532,897 520,884 516.5,880" fill="url(#LM9)" />
<polyline points="510.2,843.7 520.9,853.7" fill="none" stroke="url(#LM8)" stroke-width="2.4" />
<polygon points="520,801.7 528.3,810 530,818.3 530.5,820 522,820 516.5,829 508,838.5 506,826 514,812" fill="url(#LW5)" />
<polygon points="497,866 510,856 517,862 512,874 500,877" fill="url(#LW13)" />
<polygon points="505,860 510,857 512,866 507,868" fill="url(#ML9)" />
<polygon points="538.4,880 556.7,891.1 578.5,908.3 579,911.8 560.2,933.5 558.4,932.4 549.9,926.7 538.4,915" fill="url(#WL4)" />
<polygon points="576,907 579,911.8 563.5,933 558.4,932.2 575,911.5" fill="#c0c0c0" />
<polygon points="539.5,915.5 548,912 552,920 556,930.5 549.9,926.7" fill="url(#LW8)" />
<polygon points="520.6,907.2 533.8,907.2 536.1,916.4 546.4,924.4 549.3,935.8 550.4,946.1 554.4,948.4 554.4,951.9 549.9,953 545.3,950.7 533.8,938.1 523.5,929 521.2,918.6" fill="url(#ML6)" />
<polygon points="499.4,912 512.4,909.9 520.6,907.2 521.2,918.6 523.5,929 533.8,938.1 515,930.7 499.4,920.3" fill="url(#LW4)" />
<polygon points="510.9,909.5 520.6,909 522.4,923.2 516,917" fill="url(#WL6)" />
<polyline points="506,909 535,941" fill="none" stroke="url(#LM8)" stroke-width="1.0" />
<polygon points="524,921 527,919 537,934 535.5,937" fill="url(#LW6)" />
<ellipse cx="551.5" cy="949.8" rx="3" ry="2.8" fill="url(#ML5)" />
<line x1="361.2" y1="860" x2="473.3" y2="795" stroke="#000" stroke-width="1.3" stroke-dasharray="4.6 2.2"/>
<line x1="401.2" y1="880.3" x2="510.8" y2="816.7" stroke="#000" stroke-width="1.3" stroke-dasharray="4.6 2.2"/>
<line x1="332.3" y1="876.7" x2="353.2" y2="864.7" stroke="#000" stroke-width="1.3" />
<line x1="366.5" y1="899.5" x2="394.8" y2="883" stroke="#000" stroke-width="1.3" />
<ellipse cx="476.7" cy="793.3" rx="3.4" ry="5.5" fill="none" stroke="#000" stroke-width="1.4" stroke-dasharray="3.4 1.6" transform="rotate(-22 476.7 793.3)"/>
<ellipse cx="498.3" cy="795.8" rx="4.9" ry="7.8" fill="none" stroke="#000" stroke-width="1.4" stroke-dasharray="3.4 1.6" transform="rotate(-22 498.3 795.8)"/>
<ellipse cx="514.2" cy="814.2" rx="3.1" ry="5.4" fill="none" stroke="#000" stroke-width="1.4" stroke-dasharray="3.4 1.6" transform="rotate(-22 514.2 814.2)"/>
<line x1="518.3" y1="811.7" x2="522.5" y2="809.3" stroke="#000" stroke-width="1.3" />
<ellipse cx="323.2" cy="883.8" rx="8.5" ry="9.4" fill="url(#DM5)" transform="rotate(-20 323.2 883.8)" />
<ellipse cx="322.1" cy="882.7" rx="8.5" ry="9.4" fill="url(#ML2)" transform="rotate(-20 322.1 882.7)" />
<ellipse cx="320.7" cy="882.3" rx="3.4" ry="5.6" fill="url(#MD6)" transform="rotate(-25 320.7 882.3)" />
<ellipse cx="321.9" cy="882.7" rx="1.1" ry="3.6" fill="url(#WL3)" transform="rotate(-28 321.9 882.7)" />
<ellipse cx="357.4" cy="906.3" rx="8.5" ry="9.4" fill="url(#DM5)" transform="rotate(-20 357.4 906.3)" />
<ellipse cx="356.3" cy="905.2" rx="8.5" ry="9.4" fill="url(#ML2)" transform="rotate(-20 356.3 905.2)" />
<ellipse cx="354.9" cy="904.8" rx="3.4" ry="5.6" fill="url(#MD6)" transform="rotate(-25 354.9 904.8)" />
<ellipse cx="356.1" cy="905.2" rx="1.1" ry="3.6" fill="url(#WL3)" transform="rotate(-28 356.1 905.2)" />
<polygon points="300,889.5 307.3,890.5 307.3,896.5 302.5,901 297.5,899" fill="url(#ML2)" />
<ellipse cx="297.3" cy="897.6" rx="7.4" ry="8.4" fill="url(#ML2)" transform="rotate(-20 297.3 897.6)" />
<polyline points="303.1,890.2 304.3,896.5" fill="none" stroke="url(#MD6)" stroke-width="1.0" />
<polygon points="294.5,904.2 300.5,906 305,900.5 307.3,896.5 307.3,898.5 303.5,903.5 299.5,907" fill="url(#DM5)" />
<polygon points="334.7,911.7 342,912.7 342,918.7 337.2,923.2 332.2,921.2" fill="url(#ML2)" />
<ellipse cx="332" cy="919.8" rx="7.4" ry="8.4" fill="url(#ML2)" transform="rotate(-20 332 919.8)" />
<polyline points="337.8,912.4 339,918.7" fill="none" stroke="url(#MD6)" stroke-width="1.0" />
<polygon points="329.2,926.4 335.2,928.2 339.7,922.7 342,918.7 342,920.7 338.2,925.7 334.2,929.2" fill="url(#DM5)" />
<polygon points="259.2,910.2 263.3,905.2 275,901 281.7,906 282.5,914.3 270,922.7 263.3,921.8 259.7,916" fill="url(#MD2)" />
<polygon points="263.3,905.2 275,901 281.7,906 282,911 270,917.5 267,910" fill="url(#ML4)" />
<polygon points="270,922.7 282.5,914.3 282.3,911.5 269.5,920" fill="url(#DK5)" />
<ellipse cx="263.6" cy="913.8" rx="4.3" ry="7.8" fill="url(#MD3)" transform="rotate(-18 263.6 913.8)" />
<polygon points="293.2,933.1 297.3,928.1 309,923.9 315.7,928.9 316.5,937.2 304,945.6 297.3,944.7 293.7,938.9" fill="url(#MD2)" />
<polygon points="297.3,928.1 309,923.9 315.7,928.9 316,933.9 304,940.4 301,932.9" fill="url(#ML4)" />
<polygon points="304,945.6 316.5,937.2 316.3,934.4 303.5,942.9" fill="url(#DK5)" />
<ellipse cx="297.6" cy="936.7" rx="4.3" ry="7.8" fill="url(#MD3)" transform="rotate(-18 297.6 936.7)" />
<polygon points="227.06,939.813 251.86,925.313 249.74,921.687 224.94,936.187" fill="url(#MD3)" />
<polygon points="227.06,939.813 251.86,925.313 251.012,923.863 226.212,938.363" fill="url(#DM7)" />
<polygon points="224.94,936.187 249.74,921.687 250.376,922.775 225.576,937.275" fill="url(#ML7)" />
<ellipse cx="227.2" cy="937.4" rx="3.4" ry="5.8" fill="url(#MD3)" transform="rotate(-28 227.2 937.4)" />
<ellipse cx="225.2" cy="938.3" rx="4.6" ry="6.3" fill="url(#LW3)" transform="rotate(-28 225.2 938.3)" />
<ellipse cx="224.4" cy="937.4" rx="2.4" ry="3.6" fill="url(#LW9)" transform="rotate(-28 224.4 937.4)" />
<polygon points="261.029,962.331 286.829,947.831 284.771,944.169 258.971,958.669" fill="url(#MD3)" />
<polygon points="261.029,962.331 286.829,947.831 286.006,946.366 260.206,960.866" fill="url(#DM7)" />
<polygon points="258.971,958.669 284.771,944.169 285.388,945.268 259.588,959.768" fill="url(#ML7)" />
<ellipse cx="261.2" cy="959.9" rx="3.4" ry="5.8" fill="url(#MD3)" transform="rotate(-28 261.2 959.9)" />
<ellipse cx="259.2" cy="960.8" rx="4.6" ry="6.3" fill="url(#LW3)" transform="rotate(-28 259.2 960.8)" />
<ellipse cx="258.4" cy="959.9" rx="2.4" ry="3.6" fill="url(#LW9)" transform="rotate(-28 258.4 959.9)" />
<line x1="307.5" y1="850" x2="319.2" y2="874.3" stroke="#000" stroke-width="1.3" />
<path transform="translate(293.434 847.091) scale(17.4 14.5)" d="M.372,0H.285V-.56Q.2,-.49 .109,-.452V-.54Q.25,-.61 .316,-.716H.372Z" stroke="#000" stroke-width="0.02"/>
<text transform="translate(303.108 847.091) scale(1.2 1)" font-size="14.5" font-weight="normal" text-anchor="start" stroke="#000" stroke-width="0.18">2</text>
<line x1="281.1" y1="864.4" x2="294.2" y2="888.5" stroke="#000" stroke-width="1.3" />
<path transform="translate(268.378 861.991) scale(17.4 14.5)" d="M.372,0H.285V-.56Q.2,-.49 .109,-.452V-.54Q.25,-.61 .316,-.716H.372Z" stroke="#000" stroke-width="0.02"/>
<path transform="translate(278.052 861.991) scale(17.4 14.5)" d="M.372,0H.285V-.56Q.2,-.49 .109,-.452V-.54Q.25,-.61 .316,-.716H.372Z" stroke="#000" stroke-width="0.02"/>
<line x1="255" y1="882.7" x2="267.5" y2="905.2" stroke="#000" stroke-width="1.3" />
<path transform="translate(240.534 877.891) scale(17.4 14.5)" d="M.372,0H.285V-.56Q.2,-.49 .109,-.452V-.54Q.25,-.61 .316,-.716H.372Z" stroke="#000" stroke-width="0.02"/>
<text transform="translate(250.208 877.891) scale(1.2 1)" font-size="14.5" font-weight="normal" text-anchor="start" stroke="#000" stroke-width="0.18">0</text>
<line x1="221.7" y1="903.5" x2="236.7" y2="928.5" stroke="#000" stroke-width="1.3" />
<text transform="translate(213.472 900.791) scale(1.2 1)" font-size="14.5" font-weight="normal" text-anchor="start" stroke="#000" stroke-width="0.18">9</text>
<line x1="274.2" y1="956" x2="283.3" y2="981.9" stroke="#000" stroke-width="1.3" />
<text transform="translate(281.171 994.391) scale(1.2 1)" font-size="14.5" font-weight="normal" text-anchor="start" stroke="#000" stroke-width="0.18">9</text>
<line x1="311.5" y1="943.3" x2="320.7" y2="963.3" stroke="#000" stroke-width="1.3" />
<path transform="translate(310.534 975.591) scale(17.4 14.5)" d="M.372,0H.285V-.56Q.2,-.49 .109,-.452V-.54Q.25,-.61 .316,-.716H.372Z" stroke="#000" stroke-width="0.02"/>
<text transform="translate(320.208 975.591) scale(1.2 1)" font-size="14.5" font-weight="normal" text-anchor="start" stroke="#000" stroke-width="0.18">0</text>
<line x1="336.5" y1="927.5" x2="349.8" y2="948.3" stroke="#000" stroke-width="1.3" />
<path transform="translate(348.778 962.691) scale(17.4 14.5)" d="M.372,0H.285V-.56Q.2,-.49 .109,-.452V-.54Q.25,-.61 .316,-.716H.372Z" stroke="#000" stroke-width="0.02"/>
<path transform="translate(358.452 962.691) scale(17.4 14.5)" d="M.372,0H.285V-.56Q.2,-.49 .109,-.452V-.54Q.25,-.61 .316,-.716H.372Z" stroke="#000" stroke-width="0.02"/>
<line x1="360.7" y1="913.3" x2="376.5" y2="932.5" stroke="#000" stroke-width="1.3" />
<path transform="translate(373.334 945.991) scale(17.4 14.5)" d="M.372,0H.285V-.56Q.2,-.49 .109,-.452V-.54Q.25,-.61 .316,-.716H.372Z" stroke="#000" stroke-width="0.02"/>
<text transform="translate(383.008 945.991) scale(1.2 1)" font-size="14.5" font-weight="normal" text-anchor="start" stroke="#000" stroke-width="0.18">2</text>
<polygon points="61.5,1006.5 73.9,982.4 77.2,983.5 78.2,986.4 100.5,972.9 104.9,974.4 105.6,993 77.9,1007.9 77.9,1014.1" fill="url(#DK4)" />
<polygon points="67.5,1005 75.3,990.5 76.3,1010.3" fill="url(#LW11)" />
<polygon points="75.3,990.5 77.2,992.2 86,986.8 86,1000.8 76,1006.2 76.3,1010.3 70,1007" fill="url(#LW9)" />
<polygon points="86,986.8 94,982 94,996.4 86,1000.8" fill="url(#LW2)" />
<polygon points="94,982 102.4,977 103.2,991.2 94,996.4" fill="url(#ML8)" />
<polyline points="67,1005 76.3,1010" fill="none" stroke="url(#ML8)" stroke-width="1.2" />
<text transform="translate(77.7 1005.2) skewY(-29.5) skewX(-5) scale(0.62 1)" font-size="17.5" font-weight="bold" stroke="#000" stroke-width="0.6">FWD</text>
<text transform="translate(30.3 1033) scale(1.033 1)" font-size="16" font-weight="normal" text-anchor="start" stroke="#000" stroke-width="0.18">BKN</text>
<path transform="translate(64.2816 1033) scale(16.528 16)" d="M.372,0H.285V-.56Q.2,-.49 .109,-.452V-.54Q.25,-.61 .316,-.716H.372Z" stroke="#000" stroke-width="0.02"/>
<path transform="translate(73.4711 1033) scale(16.528 16)" d="M.372,0H.285V-.56Q.2,-.49 .109,-.452V-.54Q.25,-.61 .316,-.716H.372Z" stroke="#000" stroke-width="0.02"/>
<path transform="translate(82.6607 1033) scale(16.528 16)" d="M.372,0H.285V-.56Q.2,-.49 .109,-.452V-.54Q.25,-.61 .316,-.716H.372Z" stroke="#000" stroke-width="0.02"/>
<text transform="translate(91.8503 1033) scale(1.033 1)" font-size="16" font-weight="normal" text-anchor="start" stroke="#000" stroke-width="0.18">0D0480</text></svg></body></html>
